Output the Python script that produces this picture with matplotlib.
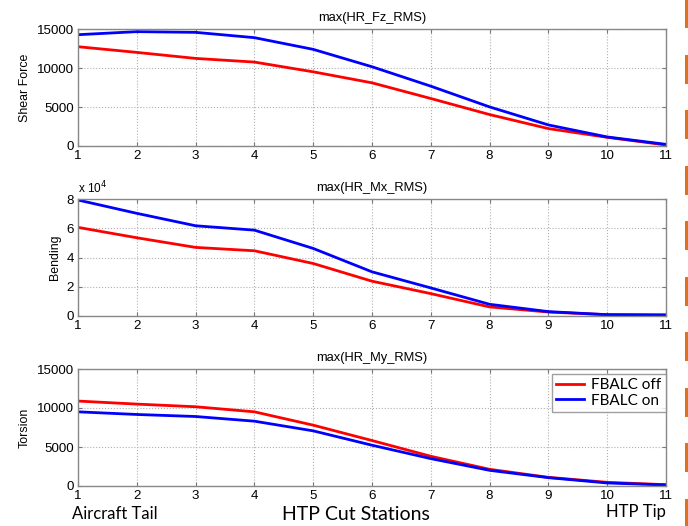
import matplotlib
matplotlib.use('Agg')
import matplotlib.pyplot as plt
from matplotlib.patches import Rectangle

stations = [1, 2, 3, 4, 5, 6, 7, 8, 9, 10, 11]

shear_off = [12730, 12000, 11230, 10760, 9510, 8100, 6090, 4030, 2230, 1110, 130]
shear_on = [14270, 14660, 14570, 13890, 12390, 10160, 7670, 5010, 2700, 1160, 210]

bending_off = [6.06, 5.35, 4.69, 4.46, 3.59, 2.38, 1.53, 0.62, 0.27, 0.09, 0.07]
bending_on = [7.93, 7.02, 6.17, 5.87, 4.62, 3.02, 1.92, 0.80, 0.30, 0.09, 0.07]

torsion_off = [10890, 10500, 10160, 9510, 7800, 5830, 3810, 2140, 1110, 470, 170]
torsion_on = [9510, 9170, 8910, 8310, 7070, 5230, 3510, 2010, 1070, 390, 130]

titles = ['max(HR_Fz_RMS)', 'max(HR_Mx_RMS)', 'max(HR_My_RMS)']
ylabels = ['Shear Force', 'Bending', 'Torsion']
yticks = [[0, 5000, 10000, 15000], [0, 2, 4, 6, 8], [0, 5000, 10000, 15000]]

plt.rcParams['font.family'] = ['Liberation Sans', 'DejaVu Sans']

fig = plt.figure(figsize=(6.88, 5.26), dpi=100)
W, H = 688.0, 526.0
tops = [29, 199, 369]
axes = []
for top in tops:
    ax = fig.add_axes([78 / W, 1 - (top + 117) / H, 588 / W, 117 / H])
    axes.append(ax)

data = [(shear_off, shear_on), (bending_off, bending_on), (torsion_off, torsion_on)]
for i, ax in enumerate(axes):
    off, on = data[i]
    ax.plot(stations, off, color='#ff0000', lw=2.0, label='FBALC off')
    ax.plot(stations, on, color='#0000ff', lw=2.0, label='FBALC on')
    ax.set_xlim(1, 11)
    ax.set_ylim(yticks[i][0], yticks[i][-1])
    ax.set_xticks(stations)
    ax.set_yticks(yticks[i])
    ax.grid(True, linestyle=':', color='#b0b0b0', lw=0.8)
    ax.tick_params(labelsize=9.6, length=3, color='#777777', direction='in',
                   top=True, right=True, pad=3)
    for s in ax.spines.values():
        s.set_color('#888888')
        s.set_linewidth(1.0)
    ax.set_title(titles[i], fontsize=9.3, pad=6)
    ax.set_ylabel(ylabels[i], fontsize=8.9, labelpad=4)

axes[1].text(0.0, 1.02, r'x 10$^4$', transform=axes[1].transAxes,
             fontsize=8.5, ha='left', va='bottom')

leg = axes[2].legend(loc='upper right', bbox_to_anchor=(1.0, 0.96),
                     frameon=True, fancybox=False,
                     handlelength=1.8, borderaxespad=0.0, labelspacing=0.1,
                     handletextpad=0.5, borderpad=0.3,
                     prop={'family': 'Lato', 'size': 11})
leg.get_frame().set_edgecolor('#888888')
leg.get_frame().set_linewidth(1.0)

fig.text(72 / W, 1 - 514 / H, 'Aircraft Tail', fontsize=12, family='Lato',
         ha='left', va='center')
fig.text(356 / W, 1 - 515 / H, 'HTP Cut Stations', fontsize=14, family='Lato',
         ha='center', va='center')
fig.text(666 / W, 1 - 512 / H, 'HTP Tip', fontsize=12, family='Lato',
         ha='right', va='center')

# orange slide bars at right edge
for k in range(10):
    y0 = -1 + k * 55.5
    fig.patches.append(Rectangle((685 / W, 1 - (y0 + 29) / H), 3 / W, 29 / H,
                                 transform=fig.transFigure, color='#e0701e', lw=0))

fig.savefig('out.png', dpi=100)
